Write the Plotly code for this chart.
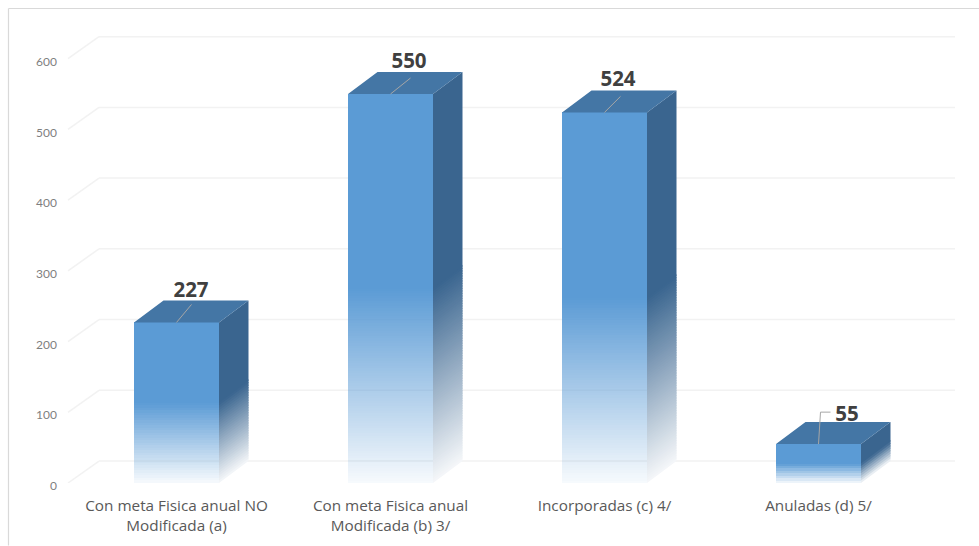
import plotly.graph_objects as go

# ---- data ----
categories = ["Con meta Fisica anual NO<br>Modificada (a)",
              "Con meta Fisica anual<br>Modificada (b) 3/",
              "Incorporadas (c) 4/",
              "Anuladas (d) 5/"]
values = [227, 550, 524, 55]
tick_vals = [0, 100, 200, 300, 400, 500, 600]
tick_text = ["0", "100", "200", "300", "400", "500", "600"]

# ---- layout constants (pixels of the 979x546 frame) ----
W, H = 979, 546
L, R, T, B = 60, 19, 10, 62.5
PX_PER_X = 214.0          # pixels between neighbouring categories
FIRST_X = 176.5           # pixel centre of the first category
PX_PER_UNIT = 0.708       # pixels per value unit
BAR_W = 85 / PX_PER_X
DX = 29.5 / PX_PER_X      # depth, in x units
DY = 22 / PX_PER_UNIT     # depth, in y units


def xpx(p):
    return p / PX_PER_X


def ypx(p):
    return p / PX_PER_UNIT


xr = [(L - FIRST_X) / PX_PER_X, (W - R - FIRST_X) / PX_PER_X]
yr = [0, (H - B - T) / PX_PER_UNIT]
positions = list(range(len(values)))

FRONT = (91, 155, 213)
SIDE = (58, 101, 143)
TOP = "#4476A5"
GRID = "#F2F2F2"
LEADER = "#A6A6A6"

fig = go.Figure()

# --- gradient bars: solid upper half, fading lower half ---
STRIP_PX = 2.5
FADE_FROM = 0.5
MIN_ALPHA = 0.05


def alpha(f):
    return MIN_ALPHA + (1 - MIN_ALPHA) * min(f / FADE_FROM, 1)


def on_white(rgb, a):
    return "rgb(%d,%d,%d)" % tuple(round(255 + (c - 255) * a) for c in rgb)


for p, v in zip(positions, values):
    k = max(5, round(v * FADE_FROM * PX_PER_UNIT / STRIP_PX))
    levels = [FADE_FROM * j / k for j in range(k + 1)] + [1.0]
    for lo, hi in zip(levels[:-1], levels[1:]):
        a = 1 if hi >= 1 else alpha((lo + hi) / 2)
        fig.add_trace(go.Bar(
            x=[p], y=[v * (hi - lo)], base=[v * lo], width=BAR_W,
            marker=dict(color="rgba(%d,%d,%d,%.3f)" % (*FRONT, a), line=dict(width=0)),
            hoverinfo="skip", showlegend=False,
        ))
        # side face; each strip runs a little into the next one, which is painted
        # over it, so that no seams show
        x0, x1 = p + BAR_W / 2, p + BAR_W / 2 + DX
        top = v * hi if hi >= 1 else v * hi + ypx(1.5)
        fig.add_trace(go.Scatter(
            x=[x0, x1, x1, x0, x0],
            y=[v * lo, v * lo + DY, top + DY, top, v * lo],
            mode="lines", fill="toself", fillcolor=on_white(SIDE, a),
            line=dict(width=0), hoverinfo="skip", showlegend=False,
        ))

# --- top faces ---
tx, ty = [], []
for p, v in zip(positions, values):
    x0, x1 = p - BAR_W / 2, p + BAR_W / 2
    tx += [x0, x1, x1 + DX, x0 + DX, x0, None]
    ty += [v, v, v + DY, v + DY, v, None]
fig.add_trace(go.Scatter(x=tx, y=ty, mode="lines", fill="toself", fillcolor=TOP,
                         line=dict(width=0), hoverinfo="skip", showlegend=False))

# --- leader lines and data labels ---
label_dx = [14.5, 18.5, 13.5, 28.5]
label_dy = [30.8, 31, 31.5, 28.6]
leader_paths = [[(0, 0), (15, 18)],
                [(0, 0), (20, 16)],
                [(0, 0), (16, 16)],
                [(0, 0), (2, 32), (12, 32)]]
lx, ly = [], []
for p, v, path in zip(positions, values, leader_paths):
    for dx, dy in path:
        lx.append(p + xpx(dx))
        ly.append(v + ypx(dy))
    lx.append(None)
    ly.append(None)
fig.add_trace(go.Scatter(x=lx, y=ly, mode="lines", line=dict(color=LEADER, width=1),
                         hoverinfo="skip", showlegend=False))
fig.add_trace(go.Scatter(
    x=[p + xpx(d) for p, d in zip(positions, label_dx)],
    y=[v + ypx(d) for v, d in zip(values, label_dy)],
    mode="text", text=[str(v) for v in values], textposition="middle center",
    textfont=dict(family="Open Sans", size=20.5, color="#404040", weight="bold"),
    hoverinfo="skip", showlegend=False,
))

# --- walls: gridlines on the back wall with the diagonal on the side wall ---
shapes = []
grid_start = (68 - FIRST_X) / PX_PER_X
grid_back = grid_start + (31 / PX_PER_X)
grid_end = (955 - FIRST_X) / PX_PER_X
for t in tick_vals:
    shapes.append(dict(type="line", layer="below", xref="x", yref="y",
                       x0=grid_start, y0=t, x1=grid_back, y1=t + DY,
                       line=dict(color=GRID, width=1.5)))
    shapes.append(dict(type="line", layer="below", xref="x", yref="y",
                       x0=grid_back, y0=t + DY, x1=grid_end, y1=t + DY,
                       line=dict(color=GRID, width=1.5)))

# --- frame of the picture ---
pw, ph = W - L - R, H - T - B


def pxx(p):
    return (p - L) / pw


def pxy(p):
    return 1 - (p - T) / ph


shapes.append(dict(type="line", xref="paper", yref="paper", layer="below",
                   x0=pxx(8.5), x1=pxx(8.5), y0=pxy(8.5), y1=pxy(546),
                   line=dict(color="#D9D9D9", width=1.2)))
shapes.append(dict(type="line", xref="paper", yref="paper", layer="below",
                   x0=pxx(8.5), x1=pxx(979), y0=pxy(8.5), y1=pxy(8.5),
                   line=dict(color="#D9D9D9", width=1.2)))

fig.update_layout(
    width=W, height=H,
    margin=dict(l=L, r=R, t=T, b=B),
    barmode="overlay",
    bargap=0,
    paper_bgcolor="white", plot_bgcolor="white",
    showlegend=False,
    shapes=shapes,
    xaxis=dict(range=xr, tickmode="array", tickvals=positions, ticktext=categories,
               showgrid=False, zeroline=False, showline=False, ticks="",
               ticklabelstandoff=12,
               tickfont=dict(family="Open Sans", size=15.3, color="#595959")),
    yaxis=dict(range=yr, tickmode="array", tickvals=tick_vals, ticktext=tick_text,
               showgrid=False, zeroline=False, showline=False, ticks="",
               ticklabelstandoff=2, ticklabelshift=3,
               tickfont=dict(family="Lato", size=12, color="#7F7F7F")),
)

fig.write_html("out.html", config={"displayModeBar": False},
               post_script="document.body.style.margin='0';document.body.style.overflow='hidden';")
